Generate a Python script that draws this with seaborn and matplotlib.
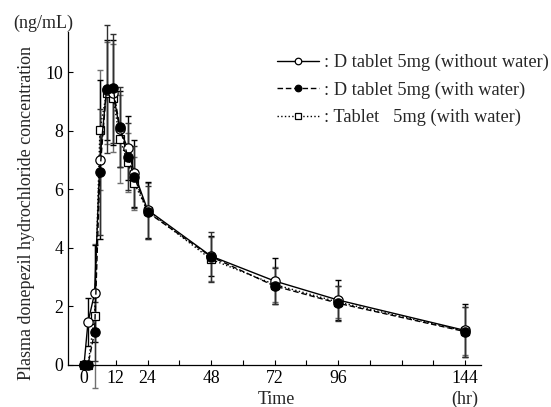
import numpy as np
import pandas as pd
import seaborn as sns
import matplotlib.pyplot as plt

# sampling times (hr) and mean / SD concentrations (ng/mL)
time = [0, 1.5, 4, 6, 8.5, 11, 13.5, 16.5, 19, 24, 48, 72, 96, 144]

d_nowater = [0, 1.46, 2.45, 7.02, 9.40, 9.30, 8.05, 7.42, 6.55, 5.30, 3.72, 2.87, 2.22, 1.18]
d_nowater_sd = [0, 0.82, 1.65, 2.70, 1.70, 1.80, 1.30, 1.10, 1.15, 0.95, 0.68, 0.77, 0.68, 0.89]

d_water = [0, 0, 1.14, 6.58, 9.43, 9.45, 8.14, 7.12, 6.43, 5.22, 3.70, 2.70, 2.11, 1.14]
d_water_sd = [0, 0, 1.00, 2.15, 2.20, 1.85, 1.37, 1.15, 1.05, 0.90, 0.85, 0.63, 0.60, 0.85]

tab_water = [0, 0, 1.67, 8.03, 9.30, 9.13, 7.72, 6.92, 6.21, 5.27, 3.61, 2.75, 2.15, 1.16]
tab_water_sd = [0, 0, 2.45, 2.05, 1.75, 1.85, 1.50, 1.00, 0.90, 0.95, 0.75, 0.60, 0.55, 0.83]

labels = [': D tablet 5mg (without water)',
          ': D tablet 5mg (with water)',
          ': Tablet   5mg (with water)']

xticks = [0, 12, 24, 36, 48, 60, 72, 84, 96, 108, 120, 132, 144]
xticklabels = ['0', '12', '24', '', '48', '', '72', '', '96', '', '', '', '144']

sns.set_style('ticks')
plt.rcParams['font.family'] = ['Liberation Serif', 'DejaVu Serif']

fig = plt.figure(figsize=(5.51, 4.07), dpi=100)
ax = fig.add_axes([68 / 551, 12 / 407, 413 / 551, 377 / 407])

# draw order: square series underneath, filled circles on top
series = [
    (tab_water, tab_water_sd, labels[2], ':', 's', 'white', '#707070', 6),
    (d_nowater, d_nowater_sd, labels[0], '-', 'o', 'white', 'black', 6.7),
    (d_water, d_water_sd, labels[1], (0, (4, 2)), 'o', 'black', '#303030', 6.7),
]

for i, (m, sd, lab, ls, mk, mfc, ecol, ms) in enumerate(series):
    ax.errorbar(time, m, yerr=sd, fmt='none', ecolor=ecol, elinewidth=1,
                capsize=2.5, capthick=1, zorder=2 + i)
    df = pd.DataFrame({'Time': time, 'Conc': m})
    sns.lineplot(data=df, x='Time', y='Conc', ax=ax, color='black', linestyle=ls,
                 lw=1, marker=mk, markersize=ms, markerfacecolor=mfc,
                 markeredgecolor='black', markeredgewidth=0.9, zorder=5 + i,
                 label=lab, errorbar=None)

h, l = ax.get_legend_handles_labels()
order = [l.index(x) for x in labels]
ax.legend([h[k] for k in order], labels, loc='upper left',
          bbox_to_anchor=(277 / 551, 1 - 54 / 407), bbox_transform=fig.transFigure,
          frameon=False, fontsize=13.2, handlelength=2.3, handletextpad=0.25,
          borderpad=0, borderaxespad=0, labelspacing=0.55, markerscale=0.7)

ax.set_xlim(-6.05, 150)
ax.set_ylim(-1.025, 11.855)
ax.spines['bottom'].set_position(('data', 0))
ax.spines['left'].set_bounds(0, 11.39)
ax.spines['top'].set_visible(False)
ax.spines['right'].set_visible(False)
for s in ['bottom', 'left']:
    ax.spines[s].set_linewidth(0.9)
    ax.spines[s].set_color('black')

ax.set_xticks(xticks)
ax.set_xticklabels(xticklabels)
ax.set_yticks([0, 2, 4, 6, 8, 10])
ax.tick_params(direction='in', length=3.5, width=0.8, labelsize=12.8, pad=3.5,
               colors='black')
ax.set_xlabel('')
ax.set_ylabel('')

fig.text(276 / 551, 1 - 400 / 407, 'Time', ha='center', va='center', fontsize=13)
fig.text(465 / 551, 1 - 399 / 407, '(hr)', ha='center', va='center', fontsize=13)
fig.text(43 / 551, 1 - 23 / 407, '(ng/mL)', ha='center', va='center', fontsize=13)
fig.text(27 / 551, 1 - 213 / 407, 'Plasma donepezil hydrochloride concentration',
         ha='center', va='center', rotation=90, fontsize=13)

fig.savefig('out.png', dpi=100)
